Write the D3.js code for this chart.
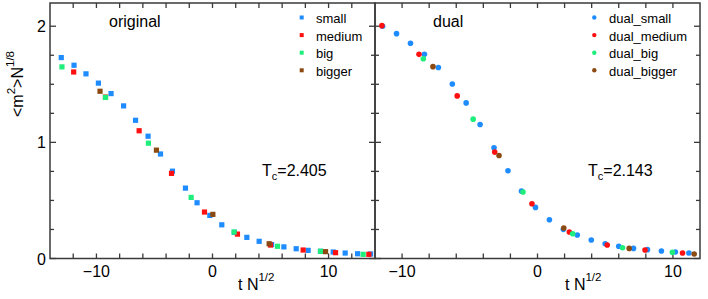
<!DOCTYPE html>
<html>
<head>
<meta charset="utf-8">
<script src="https://cdn.jsdelivr.net/npm/d3@7/dist/d3.min.js"></script>
<style>
  body { margin: 0; background: #fff; }
  svg { display: block; font-family: "Liberation Sans", Arial, sans-serif; }
</style>
</head>
<body>
<svg id="chart" width="708" height="299"></svg>
<script>
// ---------- data (left panel: original) ----------
const smallT  = [-13.03,-11.93,-10.9,-9.83,-8.74,-7.66,-6.63,-5.55,-4.48,-3.45,-2.33,-1.33,-0.23,0.80,1.88,2.96,4.02,5.09,6.15,7.21,8.24,9.3,10.4,11.43,12.5,13.62];
const smallV  = [1.73,1.664,1.59,1.51,1.42,1.314,1.19,1.053,0.90,0.752,0.606,0.48,0.371,0.29,0.225,0.182,0.148,0.12,0.10,0.084,0.07,0.062,0.056,0.047,0.041,0.039];
const mediumT = [-11.96,-9.22,-6.32,-3.53,-0.69,2.15,5.0,7.81,10.6,13.47];
const mediumV = [1.606,1.39,1.10,0.733,0.40,0.21,0.116,0.073,0.05,0.036];
const bigT    = [-12.97,-9.22,-5.52,-1.84,1.86,5.60,9.31,12.98];
const bigV    = [1.65,1.387,0.993,0.526,0.228,0.105,0.062,0.036];
const biggerT = [-9.69,-4.83,0.03,4.88,9.74];
const biggerV = [1.44,0.933,0.38,0.127,0.059];

// ---------- data (right panel: dual) ----------
const dSmallT  = [-11.44,-10.41,-9.38,-8.35,-7.32,-6.29,-5.27,-4.24,-3.21,-2.18,-1.18,-0.15,0.88,1.91,2.94,3.97,5.0,6.0,7.09,8.12,9.15,10.18,11.18];
const dSmallV  = [2.0,1.936,1.853,1.758,1.644,1.503,1.34,1.154,0.953,0.755,0.58,0.44,0.334,0.251,0.202,0.159,0.127,0.105,0.087,0.076,0.064,0.056,0.047];
const dMediumT = [-11.49,-8.75,-5.93,-3.16,-0.41,2.35,5.15,7.94,10.71];
const dMediumV = [2.005,1.758,1.40,0.916,0.471,0.228,0.116,0.073,0.047];
const dBigT    = [-8.43,-4.75,-1.07,2.60,6.28,9.96];
const dBigV    = [1.72,1.20,0.572,0.213,0.093,0.053];
const dBiggerT = [-7.72,-2.84,1.94,6.77,11.57];
const dBiggerV = [1.652,0.887,0.262,0.087,0.039];

const leftNames  = ["small","medium","big","bigger"];
const rightNames = ["dual_small","dual_medium","dual_big","dual_bigger"];
const colors = ["#1e8cff","#ff1010","#20ee7c","#8b4a12"];
const yTicks = [0,1,2];
const xTicksLeft = [-10,0,10];
const xTicksRight = [-10,0,10];

const leftSeries  = [[smallT,smallV],[mediumT,mediumV],[bigT,bigV],[biggerT,biggerV]];
const rightSeries = [[dSmallT,dSmallV],[dMediumT,dMediumV],[dBigT,dBigV],[dBiggerT,dBiggerV]];

// ---------- layout ----------
const svg = d3.select("#chart");
const topY = 3, bottomY = 258.5;
const y = d3.scaleLinear().domain([0, 2.2]).range([bottomY, topY]);
const xL = d3.scaleLinear().domain([-14, 14]).range([50, 375]);
const xR = d3.scaleLinear().domain([-12, 12]).range([375, 700]);
const axisColor = "#3a3a3a";

function frame(x) {
  const [x0, x1] = x.range();
  const g = svg.append("g");
  const xMinor = d3.range(x.domain()[0], x.domain()[1] + 0.001, 2);
  xMinor.forEach(v => {
    if (v === x.domain()[0] || v === x.domain()[1]) return;
    g.append("line").attr("x1", x(v)).attr("x2", x(v)).attr("y1", bottomY).attr("y2", bottomY - 5)
      .attr("stroke", axisColor).attr("stroke-width", 1.3);
    g.append("line").attr("x1", x(v)).attr("x2", x(v)).attr("y1", topY).attr("y2", topY + 5)
      .attr("stroke", axisColor).attr("stroke-width", 1.3);
  });
  d3.range(0, 2.2, 0.25).forEach(v => {
    const major = Math.abs(v - Math.round(v)) < 1e-9;
    const len = major ? 6 : 4;
    g.append("line").attr("x1", x0).attr("x2", x0 + len).attr("y1", y(v)).attr("y2", y(v))
      .attr("stroke", axisColor).attr("stroke-width", 1.3);
    g.append("line").attr("x1", x1).attr("x2", x1 - len).attr("y1", y(v)).attr("y2", y(v))
      .attr("stroke", axisColor).attr("stroke-width", 1.3);
  });
  g.append("rect").attr("x", x0).attr("y", topY).attr("width", x1 - x0).attr("height", bottomY - topY)
    .attr("fill", "none").attr("stroke", axisColor).attr("stroke-width", 1.5);
  return g;
}

frame(xL);
frame(xR);

// tick labels
svg.append("g").selectAll("text").data(yTicks).join("text")
  .attr("x", 46).attr("y", d => y(d) + 6).attr("text-anchor", "end")
  .attr("font-size", 16).attr("fill", "#000").text(d => d);
const fmt = d => d < 0 ? "\u2212" + Math.abs(d) : String(d);
svg.append("g").selectAll("text").data(xTicksLeft).join("text")
  .attr("x", d => xL(d)).attr("y", 277).attr("text-anchor", "middle")
  .attr("font-size", 16).attr("fill", "#000").text(fmt);
svg.append("g").selectAll("text").data(xTicksRight).join("text")
  .attr("x", d => xR(d)).attr("y", 277).attr("text-anchor", "middle")
  .attr("font-size", 16).attr("fill", "#000").text(fmt);

// markers
leftSeries.forEach(([ts, vs], i) => {
  svg.append("g").selectAll("rect").data(ts.map((t, j) => [t, vs[j]])).join("rect")
    .attr("x", d => xL(d[0]) - 2.6).attr("y", d => y(d[1]) - 2.6)
    .attr("width", 5.2).attr("height", 5.2).attr("fill", colors[i]);
});
rightSeries.forEach(([ts, vs], i) => {
  svg.append("g").selectAll("circle").data(ts.map((t, j) => [t, vs[j]])).join("circle")
    .attr("cx", d => xR(d[0])).attr("cy", d => y(d[1])).attr("r", 2.8).attr("fill", colors[i]);
});

// legends
const legY = i => 17.5 + i * 17.6;
leftNames.forEach((n, i) => {
  svg.append("rect").attr("x", 299.7).attr("y", legY(i) - 2).attr("width", 4).attr("height", 4).attr("fill", colors[i]);
  svg.append("text").attr("x", 316).attr("y", legY(i) + 5.5).attr("font-size", 13).attr("fill", "#000").text(n);
});
rightNames.forEach((n, i) => {
  svg.append("circle").attr("cx", 594.3).attr("cy", legY(i)).attr("r", 2.2).attr("fill", colors[i]);
  svg.append("text").attr("x", 609).attr("y", legY(i) + 5.5).attr("font-size", 13).attr("fill", "#000").text(n);
});

// panel titles
svg.append("text").attr("x", 109).attr("y", 26.5).attr("font-size", 16).text("original");
svg.append("text").attr("x", 433).attr("y", 26.5).attr("font-size", 16).text("dual");

// Tc labels
function tc(xPos, val) {
  const t = svg.append("text").attr("x", xPos).attr("y", 176).attr("font-size", 16).attr("fill", "#000");
  t.append("tspan").text("T");
  t.append("tspan").attr("font-size", 11).attr("dy", 4).text("c");
  t.append("tspan").attr("dy", -4).text("=" + val);
}
tc(262, "2.405");
tc(588, "2.143");

// x labels
function xlab(xPos) {
  const t = svg.append("text").attr("x", xPos).attr("y", 290).attr("font-size", 16).attr("fill", "#000");
  t.append("tspan").text("t N");
  t.append("tspan").attr("font-size", 11.5).attr("dy", -9).text("1/2");
}
xlab(238);
xlab(565);

// y label
const yl = svg.append("text").attr("transform", "translate(23,117) rotate(-90)")
  .attr("font-size", 16).attr("fill", "#000");
yl.append("tspan").text("<m");
yl.append("tspan").attr("font-size", 11.5).attr("dy", -8).text("2");
yl.append("tspan").attr("dy", 8).text(">N");
yl.append("tspan").attr("font-size", 11.5).attr("dy", -9).text("1/8");
</script>
</body>
</html>
